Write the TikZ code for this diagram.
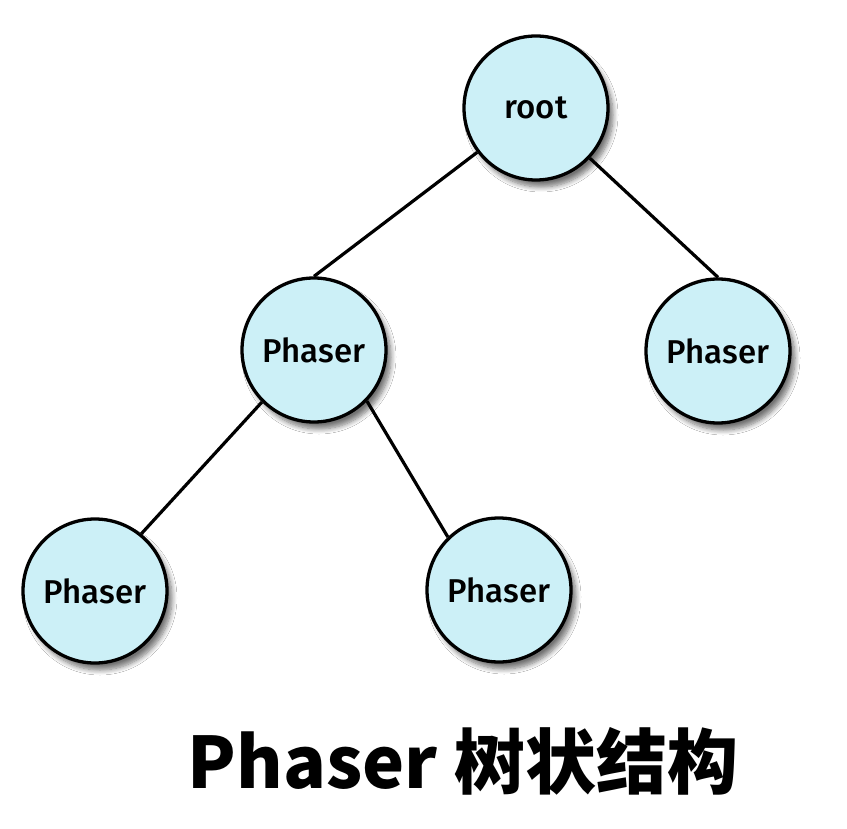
\documentclass[tikz,border=0pt]{standalone}
\usepackage{fontspec}
\setmainfont{Fira Sans}[BoldFont={Fira Sans Medium}]
\newfontfamily\cjk{Noto Sans CJK SC}
\usetikzlibrary{shadows.blur}
\definecolor{nodefill}{RGB}{204,240,247}
\begin{document}
\begin{tikzpicture}[x=1pt,y=-1pt,
  treenode/.style={circle,draw=black,line width=3.3pt,fill=nodefill,
    minimum size=144pt,inner sep=0pt,font=\bfseries\fontsize{33}{33}\selectfont,
    blur shadow={shadow xshift=5pt,shadow yshift=-7pt,shadow blur steps=8,
      shadow blur radius=5pt,shadow opacity=55}},
  edge/.style={line width=3.2pt,black}]
\useasboundingbox (0,0) rectangle (847,829);
\fill[white] (0,0) rectangle (847,829);
\node[treenode] (root) at (536,108) {root};
\node[treenode] (mid) at (314,350) {Phaser};
\node[treenode] (right) at (718,351) {Phaser};
\node[treenode] (bl) at (95,591) {Phaser};
\node[treenode] (bm) at (499,590) {Phaser};
\draw[edge] (root.217) -- (mid.north);
\draw[edge] (root.-43) -- (right.north);
\draw[edge] (mid.225) -- (bl.51);
\draw[edge] (mid.-44) -- (bm.134);
\node[font=\cjk\bfseries\fontsize{71}{71}\selectfont] (title) at (463,761) {Phaser 树状结构};
\end{tikzpicture}
\end{document}
